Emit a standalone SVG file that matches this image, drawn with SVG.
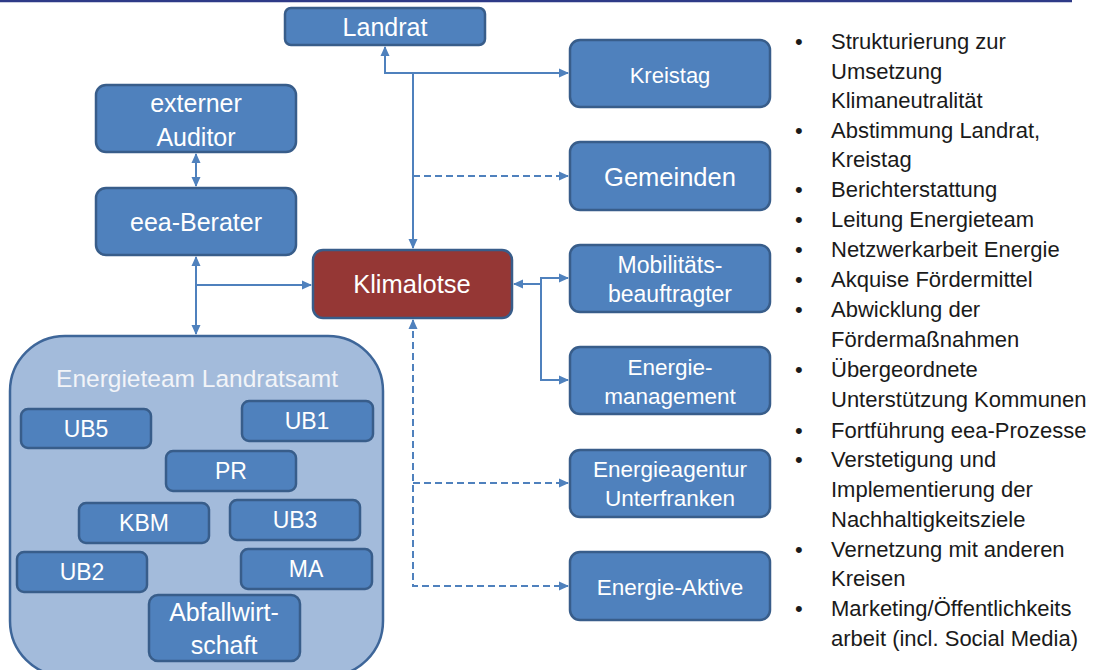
<svg xmlns="http://www.w3.org/2000/svg" width="1105" height="670" viewBox="0 0 1105 670">
<defs>
<style>
.n rect{fill:#4F81BD;stroke:#385D8A;stroke-width:2.5}
.n text,.s text{fill:#FFFFFF;font-family:"Liberation Sans",Arial,sans-serif;text-anchor:middle}
.s rect{fill:#4F81BD;stroke:#385D8A;stroke-width:2.5}
.c path{fill:none;stroke:#4F81BD;stroke-width:2}
.c .d{stroke-dasharray:7,4}
.b text{font-family:"Liberation Sans",Arial,sans-serif;font-size:22px;fill:#1A1A1A}
</style>
<marker id="a" markerWidth="10" markerHeight="10" refX="9" refY="5" orient="auto-start-reverse" markerUnits="userSpaceOnUse">
<path d="M0,0.5 L10,5 L0,9.5 Z" fill="#4F81BD"/>
</marker>
</defs>
<rect width="1105" height="670" fill="#FFFFFF"/>
<line x1="0" y1="1" x2="1072" y2="1" stroke="#2E3A87" stroke-width="2.5"/>

<g id="energieteam" class="s">
<rect x="10" y="336" width="373" height="340" rx="55" style="fill:#A3BBDB;stroke:#3E6699"/>
<text x="197" y="387" font-size="24.5" style="fill:#F2F4F8">Energieteam Landratsamt</text>
</g>
<g id="ub5" class="s"><rect x="21" y="409" width="130" height="39" rx="7"/><text x="86" y="437" font-size="23">UB5</text></g>
<g id="ub1" class="s"><rect x="242" y="401" width="131" height="40" rx="7"/><text x="307" y="429" font-size="23">UB1</text></g>
<g id="pr" class="s"><rect x="166" y="451" width="130" height="40" rx="7"/><text x="231" y="479" font-size="23">PR</text></g>
<g id="kbm" class="s"><rect x="79" y="503" width="130" height="40" rx="7"/><text x="144" y="531" font-size="23">KBM</text></g>
<g id="ub3" class="s"><rect x="230" y="500" width="130" height="40" rx="7"/><text x="295" y="528" font-size="23">UB3</text></g>
<g id="ub2" class="s"><rect x="17" y="552" width="130" height="40" rx="7"/><text x="82" y="580" font-size="23">UB2</text></g>
<g id="ma" class="s"><rect x="241" y="549" width="131" height="40" rx="7"/><text x="306" y="577" font-size="23">MA</text></g>
<g id="abfall" class="s"><rect x="149" y="595" width="151" height="66" rx="9"/><text x="224" y="621" font-size="25">Abfallwirt-</text><text x="224" y="654" font-size="25">schaft</text></g>

<g class="c">
<path d="M385,47 V73 H568" marker-start="url(#a)" marker-end="url(#a)"/>
<path d="M413,73 V248" marker-end="url(#a)"/>
<path class="d" d="M413,176 H568" marker-end="url(#a)"/>
<path d="M541,284 H514" marker-end="url(#a)"/>
<path d="M568,278 H541 V380 H568" marker-start="url(#a)" marker-end="url(#a)"/>
<path class="d" d="M413,320 V586 H568" marker-start="url(#a)" marker-end="url(#a)"/>
<path class="d" d="M413,483 H568" marker-end="url(#a)"/>
<path d="M196,154 V186" marker-start="url(#a)" marker-end="url(#a)"/>
<path d="M196,257 V334" marker-start="url(#a)" marker-end="url(#a)"/>
<path d="M196,285 H311" marker-end="url(#a)"/>
</g>

<g id="landrat" class="n"><rect x="285" y="8" width="200" height="37" rx="6"/><text x="385" y="35.5" font-size="25">Landrat</text></g>
<g id="kreistag" class="n"><rect x="570" y="40" width="200" height="67" rx="10"/><text x="670" y="83" font-size="22">Kreistag</text></g>
<g id="gemeinden" class="n"><rect x="570" y="142" width="200" height="68" rx="10"/><text x="670" y="186" font-size="25.5">Gemeinden</text></g>
<g id="mobil" class="n"><rect x="570" y="245" width="200" height="67" rx="10"/><text x="670" y="273" font-size="23">Mobilitäts-</text><text x="670" y="302" font-size="23">beauftragter</text></g>
<g id="emanagement" class="n"><rect x="570" y="347" width="200" height="67" rx="10"/><text x="670" y="375" font-size="22.5">Energie-</text><text x="670" y="404" font-size="22.5">management</text></g>
<g id="eagentur" class="n"><rect x="570" y="450" width="200" height="67" rx="10"/><text x="670" y="477" font-size="22.5">Energieagentur</text><text x="670" y="506" font-size="22.5">Unterfranken</text></g>
<g id="eaktive" class="n"><rect x="570" y="552" width="200" height="68" rx="10"/><text x="670" y="595" font-size="22.5">Energie-Aktive</text></g>
<g id="auditor" class="n"><rect x="96" y="85" width="200" height="67" rx="10"/><text x="196" y="112" font-size="25">externer</text><text x="196" y="146" font-size="25">Auditor</text></g>
<g id="eea" class="n"><rect x="96" y="188" width="200" height="67" rx="10"/><text x="196" y="231" font-size="25">eea-Berater</text></g>
<g id="klimalotse" class="n"><rect x="313" y="250" width="199" height="68" rx="10" style="fill:#953735;stroke:#385D8A"/><text x="412" y="293" font-size="25.5">Klimalotse</text></g>

<g class="b">
<text x="795" y="49">•</text><text x="831" y="49">Strukturierung zur</text>
<text x="831" y="79">Umsetzung</text>
<text x="831" y="108">Klimaneutralität</text>
<text x="795" y="138">•</text><text x="831" y="138">Abstimmung Landrat,</text>
<text x="831" y="167">Kreistag</text>
<text x="795" y="197">•</text><text x="831" y="197">Berichterstattung</text>
<text x="795" y="227">•</text><text x="831" y="227">Leitung Energieteam</text>
<text x="795" y="257">•</text><text x="831" y="257">Netzwerkarbeit Energie</text>
<text x="795" y="287">•</text><text x="831" y="287">Akquise Fördermittel</text>
<text x="795" y="317">•</text><text x="831" y="317">Abwicklung der</text>
<text x="831" y="347">Fördermaßnahmen</text>
<text x="795" y="377">•</text><text x="831" y="377">Übergeordnete</text>
<text x="831" y="407">Unterstützung Kommunen</text>
<text x="795" y="438">•</text><text x="831" y="438">Fortführung eea-Prozesse</text>
<text x="795" y="467">•</text><text x="831" y="467">Verstetigung und</text>
<text x="831" y="497">Implementierung der</text>
<text x="831" y="527">Nachhaltigkeitsziele</text>
<text x="795" y="557">•</text><text x="831" y="557">Vernetzung mit anderen</text>
<text x="831" y="586">Kreisen</text>
<text x="795" y="616">•</text><text x="831" y="616">Marketing/Öffentlichkeits</text>
<text x="831" y="646">arbeit (incl. Social Media)</text>
</g>
</svg>
